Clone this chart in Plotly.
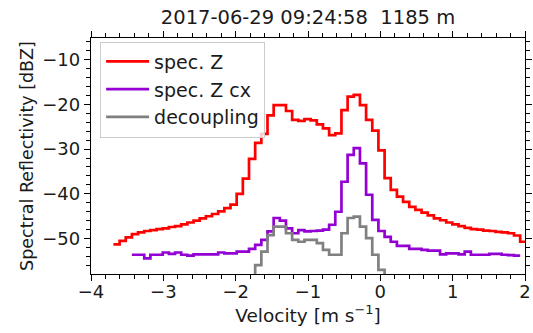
import numpy as np
import plotly.graph_objects as go

TITLE = "2017-06-29 09:24:58  1185 m"
X_LABEL = "Velocity [m s<sup>−1</sup>]"
Y_LABEL = "Spectral Reflectivity [dBZ]"

# Doppler velocity grid (left edge of first bin, bin width) in m/s
VEL0 = -3.69
DV = 0.0852

SERIES_NAMES = ["spec. Z", "spec. Z cx", "decoupling"]
START_BINS = [0, 3, 22]

spec_z = [
    -51.3, -50.5, -49.7, -49.0, -48.6, -48.3, -48.1, -47.9, -47.7, -47.4,
    -47.2, -46.8, -46.4, -46.0, -45.5, -45.0, -44.5, -43.9, -43.2, -42.4,
    -40.0, -36.6, -32.2, -28.6, -26.6, -22.5, -20.2, -20.2, -21.5, -23.5,
    -23.7, -23.3, -23.6, -24.5, -25.4, -26.9, -26.5, -21.3, -18.3, -17.9,
    -20.2, -23.5, -25.9, -30.3, -36.5, -39.1, -40.6, -41.8, -42.9, -43.6,
    -44.2, -44.8, -45.5, -45.9, -46.4, -46.8, -47.2, -47.6, -47.9, -48.0,
    -48.2, -48.3, -48.5, -48.6, -48.8, -49.3, -50.7,
]

spec_z_cx = [
    -53.6, -53.6, -54.4, -53.6, -53.6, -53.1, -53.4, -53.1, -53.6, -53.8,
    -53.5, -53.5, -53.5, -53.5, -53.1, -53.3, -53.3, -52.9, -52.9, -52.3,
    -51.4, -50.3, -48.4, -45.4, -46.0, -47.7, -48.8, -48.1, -48.4, -48.3,
    -48.2, -48.0, -46.9, -44.0, -37.3, -31.3, -29.8, -33.2, -40.2, -45.8,
    -48.3, -49.6, -50.7, -51.6, -51.6, -52.3, -52.3, -52.5, -52.7, -52.7,
    -53.5, -53.3, -53.3, -53.5, -52.9, -53.6, -53.6, -53.6, -53.4, -53.4,
    -53.6, -53.7, -53.8,
]

decoupling = [
    -65.0, -55.9, -52.9, -49.2, -47.3, -47.3, -48.8, -50.3, -50.7, -50.3,
    -50.3, -51.0, -52.5, -53.6, -53.6, -48.8, -45.4, -45.1, -47.3, -49.9,
    -53.6, -57.0, -65.0,
]

COLORS = ["#ff0000", "#9400d3", "#808080"]

X_RANGE = [-4, 2]
Y_RANGE = [-57.9, -5.2]

FONT = "DejaVu Sans, Liberation Sans, sans-serif"

fig = go.Figure()
for name, vals, start, col in zip(SERIES_NAMES, [spec_z, spec_z_cx, decoupling], START_BINS, COLORS):
    n = len(vals)
    edges = VEL0 + DV * (start + np.arange(n + 1))
    yy = list(vals) + [vals[-1]]
    fig.add_trace(go.Scatter(
        x=edges, y=yy, mode="lines", name=name,
        line=dict(color=col, width=2.7, shape="hv"),
    ))

axis_common = dict(
    showgrid=False, zeroline=False, automargin=False,
    showline=True, linecolor="black", linewidth=1.4,
    mirror="ticks", ticks="outside", ticklen=6, tickwidth=1.4, tickcolor="black",
    tickfont=dict(family=FONT, size=18, color="#1a1a1a"),
)

fig.update_xaxes(
    range=X_RANGE, dtick=1, tick0=0, ticklabelstandoff=-5,
    minor=dict(dtick=0.2, ticks="outside", ticklen=3.5, tickwidth=1.2, tickcolor="black"),
    title=dict(text=X_LABEL, font=dict(family=FONT, size=18.5, color="#1a1a1a"), standoff=2),
    **axis_common,
)
fig.update_yaxes(
    range=Y_RANGE, dtick=10, tick0=0,
    minor=dict(dtick=2, ticks="outside", ticklen=3.5, tickwidth=1.2, tickcolor="black"),
    title=dict(text=Y_LABEL, font=dict(family=FONT, size=17.5, color="#1a1a1a"), standoff=4),
    **axis_common,
)

fig.update_layout(
    width=533, height=333,
    margin=dict(l=91, r=8, t=38, b=59),
    paper_bgcolor="white", plot_bgcolor="white",
    title=dict(text=TITLE, x=(91 + 525) / 2 / 533, xanchor="center", y=1 - 17 / 333, yanchor="middle",
               font=dict(family=FONT, size=19.5, color="#1a1a1a")),
    legend=dict(
        x=0.021, y=0.985, xanchor="left", yanchor="top",
        bgcolor="rgba(255,255,255,0.8)", bordercolor="#cccccc", borderwidth=1,
        font=dict(family=FONT, size=19, color="#1a1a1a"),
        tracegroupgap=0, itemwidth=43,
    ),
    showlegend=True,
)

fig.write_html("out.html")
